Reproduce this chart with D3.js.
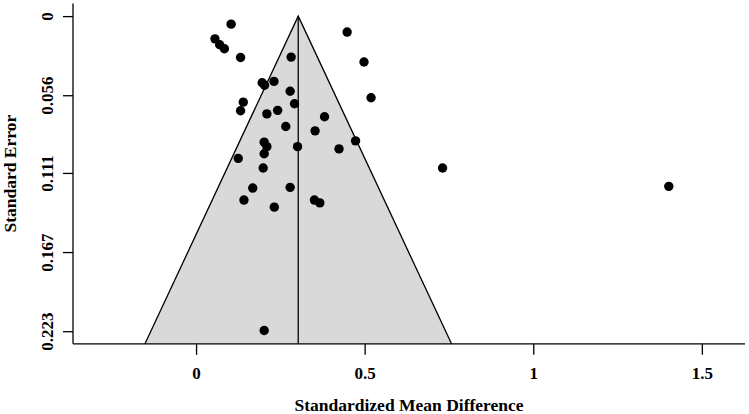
<!DOCTYPE html>
<html>
<head>
<meta charset="utf-8">
<script src="https://cdn.jsdelivr.net/npm/d3@7"></script>
<style>
  body { margin: 0; background: #fff; }
  svg { display: block; }
  text { font-family: "Liberation Serif", "Times New Roman", serif; font-weight: bold; fill: #000; }
</style>
</head>
<body>
<svg id="chart" width="749" height="414"></svg>
<script>
// effect sizes (SMD) and their standard errors
const smd = [0.104, 0.056, 0.070, 0.084, 0.132, 0.282, 0.448, 0.498, 0.196, 0.203,
             0.231, 0.279, 0.519, 0.140, 0.132, 0.292, 0.242, 0.210, 0.381, 0.266,
             0.353, 0.202, 0.210, 0.202, 0.301, 0.125, 0.199, 0.168, 0.279, 0.142,
             0.351, 0.367, 0.232, 0.424, 0.473, 0.731, 1.402, 0.202];
const se  = [0.0057, 0.0161, 0.0203, 0.0231, 0.0293, 0.0290, 0.0113, 0.0325, 0.0472, 0.0489,
             0.0462, 0.0532, 0.0578, 0.0609, 0.0670, 0.0620, 0.0667, 0.0692, 0.0712, 0.0781,
             0.0812, 0.0892, 0.0924, 0.0974, 0.0924, 0.1007, 0.1075, 0.1217, 0.1212, 0.1302,
             0.1302, 0.1322, 0.1352, 0.0940, 0.0883, 0.1075, 0.1205, 0.2225];
const estimate = 0.303;
const xTicks = [0, 0.5, 1, 1.5];
const seMax = 0.223;
const yTicks = [0, 0.056, 0.111, 0.167, 0.223];

const svg = d3.select("#chart");
const yLo = -0.04 * seMax, yHi = 1.04 * seMax;

const x = d3.scaleLinear().domain([-0.365, 1.628]).range([73, 745]);
const y = d3.scaleLinear().domain([yLo, yHi]).range([3.5, 343.8]);

// funnel (pseudo 95% CI region)
const funnel = [[estimate - 1.96 * yHi, yHi], [estimate, 0], [estimate + 1.96 * yHi, yHi]];
svg.append("path")
  .attr("d", d3.line().x(d => x(d[0])).y(d => y(d[1]))(funnel) + "Z")
  .attr("fill", "#d9d9d9")
  .attr("stroke", "none");
svg.append("path")
  .attr("d", d3.line().x(d => x(d[0])).y(d => y(d[1]))(funnel))
  .attr("fill", "none")
  .attr("stroke", "#000")
  .attr("stroke-width", 1.3);

// estimate line
svg.append("line")
  .attr("x1", x(estimate)).attr("x2", x(estimate))
  .attr("y1", y(0)).attr("y2", y(yHi))
  .attr("stroke", "#000").attr("stroke-width", 1.3);

// points
svg.append("g").selectAll("circle")
  .data(smd.map((v, i) => ({ v, s: se[i] })))
  .join("circle")
  .attr("cx", d => x(d.v))
  .attr("cy", d => y(d.s))
  .attr("r", 4.7)
  .attr("fill", "#000");

// x axis
const xAxis = svg.append("g")
  .attr("transform", `translate(0,${y(yHi)})`)
  .call(d3.axisBottom(x).tickValues(xTicks).tickFormat(d3.format("")).tickSize(11).tickSizeOuter(0));
xAxis.select(".domain").attr("d", `M${x.range()[0]},0H${x.range()[1]}`).attr("stroke-width", 1.3);
xAxis.selectAll(".tick line").attr("stroke-width", 1.3);
xAxis.selectAll(".tick text")
  .attr("y", 35).attr("dy", null)
  .style("font-size", "17px").style("font-family", null);

// y axis
const yAxis = svg.append("g")
  .attr("transform", `translate(${x.range()[0]},0)`)
  .call(d3.axisLeft(y).tickValues(yTicks).tickFormat(d3.format("")).tickSize(10).tickSizeOuter(0));
yAxis.select(".domain").attr("d", `M0,${y.range()[0]}V${y.range()[1]}`).attr("stroke-width", 1.3);
yAxis.selectAll(".tick line").attr("stroke-width", 1.3);
yAxis.selectAll(".tick text")
  .attr("x", null).attr("dy", null)
  .attr("text-anchor", "middle")
  .attr("transform", "translate(-20,0) rotate(-90)")
  .style("font-size", "17px").style("font-family", null);
svg.selectAll(".tick text").attr("font-family", null).attr("font-size", null);
svg.selectAll("g").attr("font-family", null).attr("font-size", null);

// axis titles
svg.append("text")
  .attr("x", (x.range()[0] + x.range()[1]) / 2)
  .attr("y", 411)
  .attr("text-anchor", "middle")
  .style("font-size", "17.5px")
  .text("Standardized Mean Difference");

svg.append("text")
  .attr("transform", `translate(16,${(y.range()[0] + y.range()[1]) / 2}) rotate(-90)`)
  .attr("text-anchor", "middle")
  .style("font-size", "17.5px")
  .text("Standard Error");
</script>
</body>
</html>
